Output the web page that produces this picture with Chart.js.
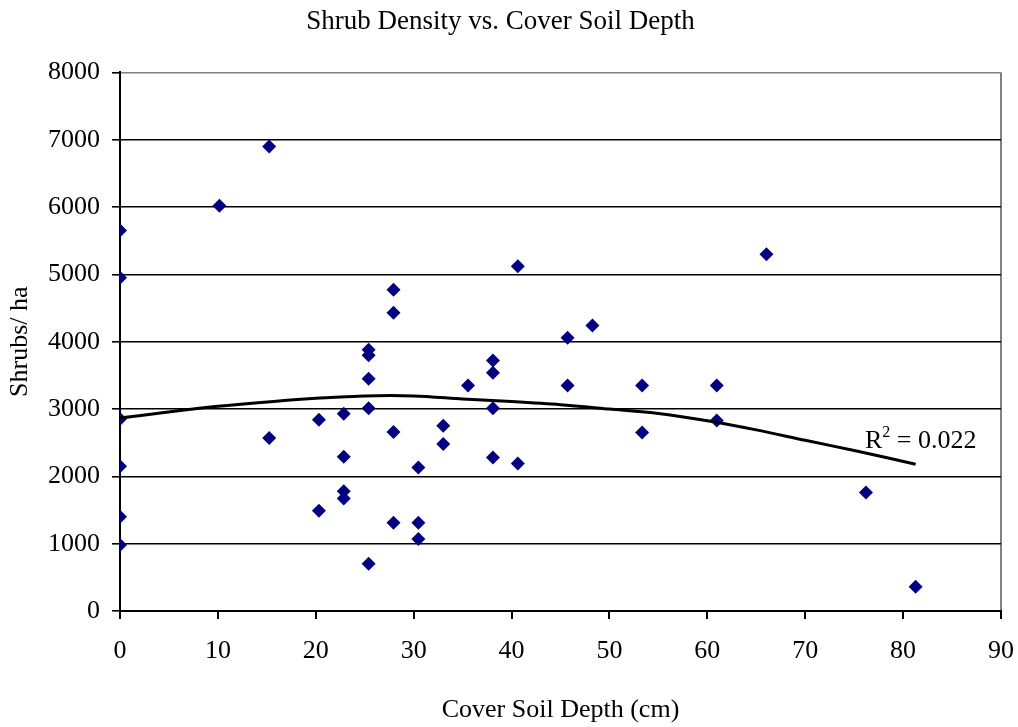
<!DOCTYPE html>
<html>
<head>
<meta charset="utf-8">
<script src="https://cdn.jsdelivr.net/npm/chart.js@4/dist/chart.umd.min.js"></script>
<style>
  html, body { margin: 0; padding: 0; background: #fff; }
  #wrap { width: 1018px; height: 727px; }
</style>
</head>
<body>
<div id="wrap"><canvas id="chart"></canvas></div>
<script>
// cover soil depth (cm) and shrub density (shrubs/ha)
const depthCm = [
  0, 0, 0, 0, 0, 0,
  10.16,
  15.24, 15.24,
  20.32, 20.32,
  22.86, 22.86, 22.86, 22.86,
  25.4, 25.4, 25.4, 25.4, 25.4,
  27.94, 27.94, 27.94, 27.94,
  30.48, 30.48, 30.48,
  33.02, 33.02,
  35.56,
  38.1, 38.1, 38.1, 38.1,
  40.64, 40.64,
  45.72, 45.72,
  48.26,
  53.34, 53.34,
  60.96, 60.96,
  66.04,
  76.2,
  81.28
];
const shrubsPerHa = [
  5650, 4950, 2850, 2150, 1400, 980,
  6020,
  6900, 2570,
  2840, 1490,
  2930, 2290, 1780, 1670,
  3880, 3800, 3450, 3010, 700,
  4770, 4430, 2660, 1310,
  2130, 1310, 1070,
  2750, 2480,
  3350,
  3720, 3540, 3010, 2280,
  5120, 2190,
  4060, 3350,
  4240,
  3350, 2650,
  3350, 2830,
  5300,
  1760,
  360
];

// polynomial trendline
const trendX = [0, 10, 20, 25, 30, 35, 40, 45, 50, 55, 60, 65, 70, 75, 81.28];
const trendY = [2866, 3040, 3160, 3195, 3195, 3150, 3110, 3063, 3000, 2935, 2826, 2690, 2535, 2385, 2180];

const xTicks = [0, 10, 20, 30, 40, 50, 60, 70, 80, 90];
const yTicks = [0, 1000, 2000, 3000, 4000, 5000, 6000, 7000, 8000];

const rSquared = '0.022';
const rLabelAt = { x: 76.1, y: 2420 };

const FONT = "'Liberation Serif', 'Times New Roman', serif";

const points = depthCm.map((d, i) => ({ x: d, y: shrubsPerHa[i] }));
const trend = trendX.map((d, i) => ({ x: d, y: trendY[i] }));

// R² label next to the end of the trendline
const rLabel = {
  id: 'rLabel',
  afterDatasetsDraw(chart) {
    const { ctx, scales: { x, y } } = chart;
    const px = x.getPixelForValue(rLabelAt.x);
    const py = y.getPixelForValue(rLabelAt.y);
    ctx.save();
    ctx.fillStyle = '#000';
    ctx.textBaseline = 'alphabetic';
    ctx.textAlign = 'left';
    ctx.font = '26px ' + FONT;
    ctx.fillText('R', px, py);
    let cx = px + ctx.measureText('R').width;
    ctx.font = '16px ' + FONT;
    ctx.fillText('2', cx, py - 11);
    cx += ctx.measureText('2').width;
    ctx.font = '26px ' + FONT;
    ctx.fillText(' = ' + rSquared, cx, py);
    ctx.restore();
  }
};

new Chart(document.getElementById('chart'), {
  type: 'scatter',
  data: {
    datasets: [
      {
        label: 'Trend',
        type: 'line',
        data: trend,
        borderColor: '#000',
        borderWidth: 3,
        pointRadius: 0,
        tension: 0.3,
        fill: false,
        order: 0
      },
      {
        label: 'Shrubs/ ha',
        data: points,
        pointStyle: 'rectRot',
        pointRadius: 7,
        pointBackgroundColor: '#000080',
        pointBorderColor: '#000080',
        pointBorderWidth: 0,
        order: 1
      }
    ]
  },
  options: {
    responsive: true,
    maintainAspectRatio: false,
    animation: false,
    layout: { padding: { left: 0, right: 17, top: 0, bottom: 0 } },
    plugins: {
      legend: { display: false },
      tooltip: { enabled: false },
      title: {
        display: true,
        text: 'Shrub Density vs. Cover Soil Depth',
        color: '#000',
        font: { family: FONT, size: 27, weight: 'normal' },
        padding: { top: 6, bottom: 34 }
      }
    },
    scales: {
      x: {
        type: 'linear',
        min: 0,
        max: 90,
        afterBuildTicks: s => { s.ticks = xTicks.map(v => ({ value: v })); },
        afterFit: s => { s.height = 116; s.paddingLeft = 0; s.paddingRight = 0; },
        ticks: {
          color: '#000',
          padding: 17,
          font: { family: FONT, size: 26 }
        },
        grid: {
          drawOnChartArea: true,
          color: c => (c.tick && c.tick.value === 90 ? '#808080' : 'rgba(0,0,0,0)'),
          tickColor: '#000',
          tickLength: 8,
          lineWidth: 2
        },
        border: { display: true, color: '#000', width: 2 },
        title: {
          display: true,
          text: 'Cover Soil Depth (cm)',
          color: '#000',
          font: { family: FONT, size: 26 },
          padding: { top: 0, bottom: 1 }
        }
      },
      y: {
        type: 'linear',
        min: 0,
        max: 8000,
        afterBuildTicks: s => { s.ticks = yTicks.map(v => ({ value: v })); },
        afterFit: s => { s.width = 120; },
        ticks: {
          color: '#000',
          padding: 12,
          font: { family: FONT, size: 26 },
          callback: v => String(v)
        },
        grid: {
          color: c => (c.tick && c.tick.value === 8000 ? '#808080' : '#000'),
          tickColor: '#000',
          tickLength: 8,
          lineWidth: 1.6
        },
        border: { display: true, color: '#000', width: 2 },
        title: {
          display: true,
          text: 'Shrubs/ ha',
          color: '#000',
          font: { family: FONT, size: 26 },
          padding: { top: 5, bottom: 0 }
        }
      }
    }
  },
  plugins: [rLabel]
});
</script>
</body>
</html>
